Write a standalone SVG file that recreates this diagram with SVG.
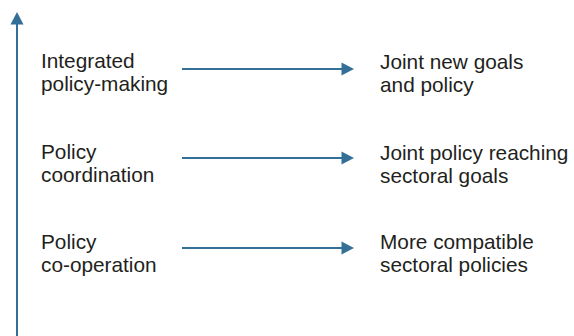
<svg xmlns="http://www.w3.org/2000/svg" width="574" height="336" viewBox="0 0 574 336">
<style>
text{font-family:"Liberation Sans",Arial,sans-serif;font-size:20.8px;fill:#231f20}
.ln{stroke:#336f97;stroke-width:2;fill:none}
.hd{fill:#336f97}
</style>
<rect width="574" height="336" fill="#fff"/>
<g id="connectors">
<line class="ln" x1="17" y1="22" x2="17" y2="336"/>
<polygon class="hd" points="17,12 23.5,24.5 10.5,24.5"/>
<line class="ln" x1="182" y1="69" x2="343" y2="69"/>
<polygon class="hd" points="354,69 341.5,62.5 341.5,75.5"/>
<line class="ln" x1="182" y1="158" x2="343" y2="158"/>
<polygon class="hd" points="354,158 341.5,151.5 341.5,164.5"/>
<line class="ln" x1="182" y1="248" x2="343" y2="248"/>
<polygon class="hd" points="354,248 341.5,241.5 341.5,254.5"/>
</g>
<g id="n1"><text x="41" y="68">Integrated</text><text x="41" y="91">policy-making</text></g>
<g id="n2"><text x="41" y="159">Policy</text><text x="41" y="182">coordination</text></g>
<g id="n3"><text x="41" y="249">Policy</text><text x="41" y="272">co-operation</text></g>
<g id="r1"><text x="380" y="69">Joint new goals</text><text x="380" y="92">and policy</text></g>
<g id="r2"><text x="380" y="160">Joint policy reaching</text><text x="380" y="183">sectoral goals</text></g>
<g id="r3"><text x="380" y="249">More compatible</text><text x="380" y="272">sectoral policies</text></g>
</svg>
